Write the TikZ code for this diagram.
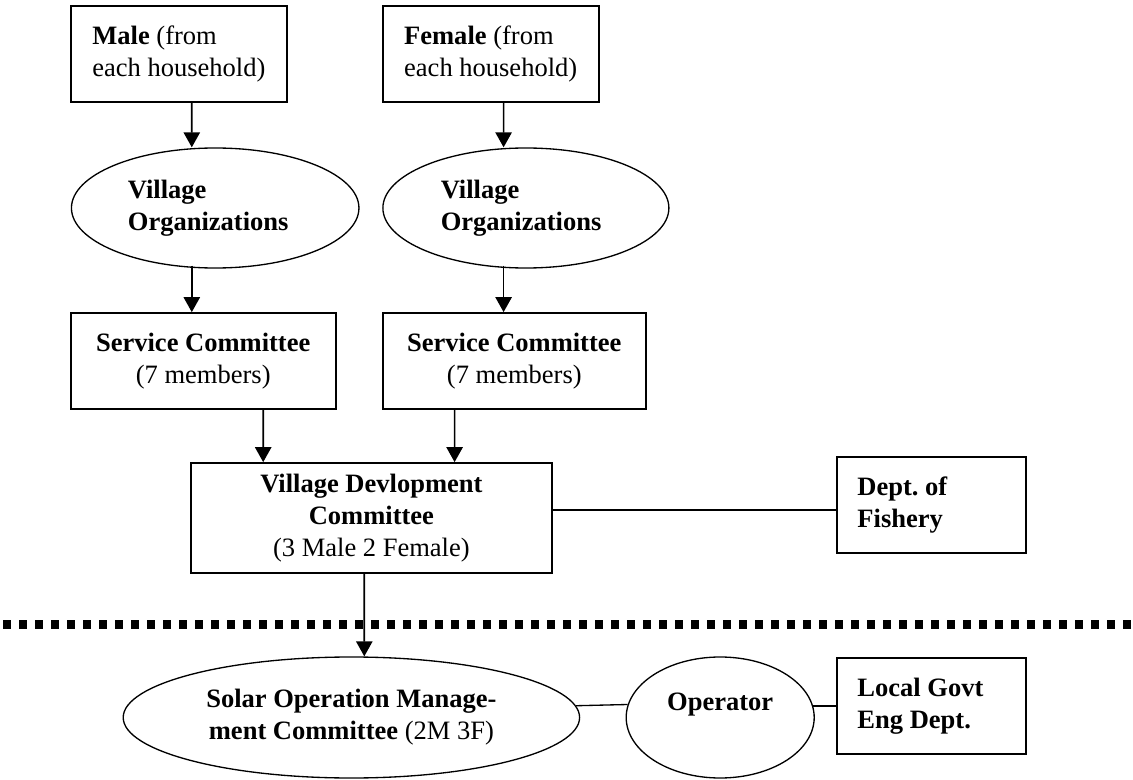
\documentclass[tikz,border=0pt]{standalone}
\usepackage{fontspec}
\setmainfont{Liberation Serif}
\usetikzlibrary{calc, shapes.geometric, arrows.meta}

\begin{document}
\begin{tikzpicture}[x=0.4525pt, y=-0.4525pt,
		font=\fontsize{12}{14.5}\selectfont,
		box/.style={draw, line width=0.8pt, inner sep=0pt, align=left},
		oval/.style={draw, ellipse, line width=0.6pt, inner sep=0pt},
		arr/.style={line width=0.75pt, -{Triangle[width=7.4pt, length=6.8pt]}},
		link/.style={line width=0.6pt}]
	\def\pxu{0.4525pt};

	\useasboundingbox (0,0) rectangle (1133,780);

	% village side
	\node [box, minimum width=216*\pxu, minimum height=96*\pxu] (male) at (178.9,54) {\textbf{Male} (from\\each household)};
	\node [box, minimum width=216*\pxu, minimum height=96*\pxu] (female) at (490.7,54) {\textbf{Female} (from\\each household)};

	\node [oval, minimum width=287.5*\pxu, minimum height=120*\pxu, text width=79pt, align=flush left, font=\fontsize{12}{14.5}\selectfont\bfseries] (vo1) at (215.2,208) {Village\\Organizations};
	\node [oval, minimum width=286*\pxu, minimum height=120*\pxu, text width=77pt, align=flush left, font=\fontsize{12}{14.5}\selectfont\bfseries] (vo2) at (525.9,208) {Village\\Organizations};

	\node [box, align=center, minimum width=265*\pxu, minimum height=96*\pxu] (sc1) at (203.2,361) {\textbf{Service Committee}\\(7 members)};
	\node [box, align=center, minimum width=263*\pxu, minimum height=96*\pxu] (sc2) at (514.3,361) {\textbf{Service Committee}\\(7 members)};

	\node [box, align=center, minimum width=361*\pxu, minimum height=110*\pxu] (vdc) at (371.4,518) {\textbf{Village Devlopment}\\\textbf{Committee}\\(3 Male 2 Female)};
	\node [box, text width=67pt, align=flush left, minimum width=189*\pxu, minimum height=96*\pxu, font=\fontsize{12}{14.5}\selectfont\bfseries] (fish) at (931.5,505) {Dept.\ of\\Fishery};

	% solar side
	\node [oval, align=center, minimum width=456.4*\pxu, minimum height=121*\pxu] (somc) at (351.4,717.5) {\textbf{Solar Operation Manage-}\\\textbf{ment Committee} (2M 3F)};
	\node [oval, align=center, minimum width=188*\pxu, minimum height=121*\pxu, font=\fontsize{12}{14.5}\selectfont\bfseries] (oper) at (720.2,717.5) {Operator\\\mbox{}};
	\node [box, text width=67pt, align=flush left, minimum width=189*\pxu, minimum height=96*\pxu, font=\fontsize{12}{14.5}\selectfont\bfseries] (lged) at (931.5,706) {Local Govt\\Eng Dept.};

	\draw [line width=3.7pt, dash pattern=on 3.3pt off 3.94pt] (3.3,624.5) -- (1133,624.5);

	\draw [arr] ($(male.south)+(12.9,0)$) -- ($(vo1.north)+(-23.4,0)$);
	\draw [arr] ($(female.south)+(12.9,0)$) -- ($(vo2.north)+(-22.3,0)$);
	\draw [arr] ($(vo1.south)+(-23.4,-3)$) -- ($(sc1.north)+(-11.4,0)$);
	\draw [arr] ($(vo2.south)+(-22.3,-3)$) -- ($(sc2.north)+(-10.7,0)$);
	\draw [arr] ($(sc1.south)+(60,0)$) -- ($(vdc.north)+(-108.2,0)$);
	\draw [arr] ($(sc2.south)+(-59.7,0)$) -- ($(vdc.north)+(83.2,0)$);
	\draw [arr] ($(vdc.south)+(-7.1,0)$) -- ($(somc.north)+(12.9,0)$);

	\draw [link] ($(vdc.east)+(0,-8)$) -- ($(fish.west)+(0,5)$);
	\draw [link] (somc.3.2) -- (oper.172.3);
	\draw [link] (oper.7.7) -- (oper.7.7 -| lged.west);
\end{tikzpicture}
\end{document}
